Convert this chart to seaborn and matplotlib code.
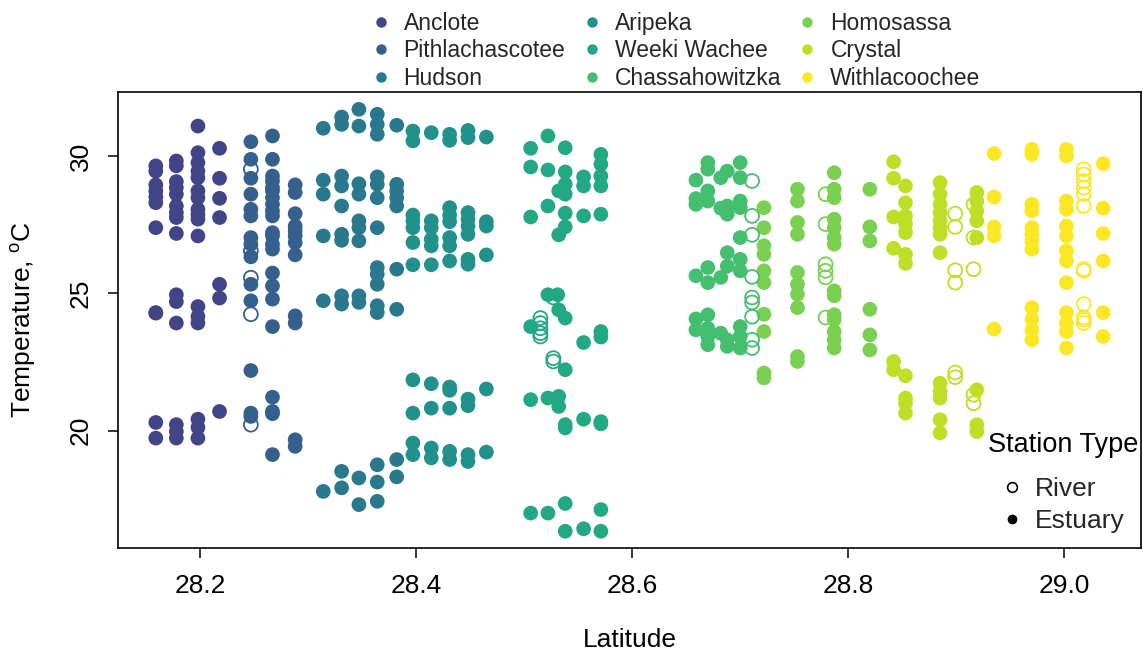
import matplotlib
matplotlib.use("Agg")
import matplotlib.pyplot as plt
from matplotlib.lines import Line2D
import pandas as pd
import seaborn as sns

SITES = ["Anclote", "Pithlachascotee", "Hudson", "Aripeka", "Weeki Wachee",
         "Chassahowitzka", "Homosassa", "Crystal", "Withlacoochee"]
COLORS = ["#414487", "#355F8D", "#2A788E", "#21918C", "#22A884",
          "#44BF70", "#7AD151", "#BDDF26", "#FDE725"]

# ---- estuary stations: station latitude and the temperatures recorded there
anclote_lat = [28.159, 28.178, 28.198, 28.218]
anclote_temp = [
    [29.64, 29.45, 28.95, 28.73, 28.51, 28.30, 27.39, 24.30, 24.28, 20.30, 19.73],
    [29.82, 29.64, 29.07, 28.85, 28.61, 28.18, 27.94, 27.76, 27.18, 24.95, 24.70,
     23.92, 20.22, 19.97, 19.73],
    [31.09, 30.12, 29.76, 29.45, 29.21, 28.73, 28.48, 28.06, 27.88, 27.70, 27.09,
     24.52, 24.16, 23.92, 20.42, 20.12, 19.73],
    [30.28, 29.19, 28.46, 27.76, 25.33, 24.83, 20.70],
]

pith_lat = [28.247, 28.267, 28.288]
pith_temp = [
    [30.52, 29.88, 29.19, 28.61, 28.06, 27.82, 27.03, 26.79, 26.33, 25.33, 24.73,
     22.19, 20.64, 20.52],
    [30.73, 29.88, 29.27, 29.09, 28.85, 28.73, 28.48, 28.24, 28.00, 27.82, 27.21,
     27.09, 26.79, 26.61, 25.74, 25.27, 24.79, 23.79, 21.22, 20.70, 20.62, 19.13],
    [28.95, 28.67, 27.90, 27.45, 27.27, 27.09, 26.85, 26.40, 24.18, 23.92, 19.67,
     19.43],
]

hudson_lat = [28.314, 28.331, 28.347, 28.364, 28.382]
hudson_temp = [
    [31.01, 29.12, 28.61, 27.09, 24.73, 17.79],
    [31.42, 31.15, 29.27, 28.91, 28.18, 27.15, 26.93, 24.91, 24.61, 18.52, 17.92],
    [31.70, 31.09, 28.99, 28.61, 27.64, 27.39, 26.91, 24.91, 24.67, 18.28, 17.31],
    [31.52, 31.15, 30.79, 29.24, 28.97, 28.48, 27.39, 25.94, 25.70, 25.33, 24.55,
     24.30, 18.76, 18.13, 17.43],
    [31.12, 28.97, 28.73, 28.48, 28.18, 25.88, 24.42, 18.95, 18.32],
]

aripeka_lat = [28.397, 28.414, 28.431, 28.448, 28.465]
aripeka_temp = [
    [30.91, 30.55, 27.85, 27.64, 27.39, 26.85, 26.04, 21.85, 20.64, 19.55, 19.13],
    [30.85, 27.64, 27.39, 26.97, 26.73, 26.04, 21.71, 20.82, 19.37, 19.01],
    [30.79, 30.57, 28.12, 27.85, 27.61, 27.03, 26.73, 26.18, 21.59, 21.47, 20.82,
     19.25, 18.95],
    [30.93, 30.67, 27.94, 27.70, 27.45, 27.15, 26.24, 26.06, 21.15, 20.91, 19.13,
     18.88],
    [30.69, 27.61, 27.45, 26.40, 21.52, 19.22],
]

weeki_lat = [28.506, 28.522, 28.531, 28.532, 28.538, 28.555, 28.571]
weeki_temp = [
    [30.28, 29.60, 27.78, 23.79, 21.13, 17.00],
    [30.73, 29.49, 28.18, 24.95, 21.19, 17.00],
    [24.95],
    [28.73, 27.13, 24.40, 21.25, 20.88],
    [30.30, 29.42, 28.97, 28.61, 27.92, 27.42, 24.10, 22.22, 20.22, 20.10, 17.35,
     16.34],
    [29.24, 28.91, 27.82, 23.21, 20.42, 16.43],
    [30.06, 29.70, 29.27, 28.91, 27.88, 23.61, 23.41, 20.33, 20.25, 17.13, 16.34],
]

chass_lat = [28.659, 28.670, 28.682, 28.688, 28.700]
chass_temp = [
    [29.12, 28.45, 28.24, 25.64, 24.07, 23.67],
    [29.76, 29.52, 28.73, 28.36, 25.94, 25.39, 24.22, 23.73, 23.43, 23.13],
    [29.21, 28.10, 25.58, 23.55],
    [29.45, 28.18, 27.88, 26.48, 25.99, 23.31, 23.07],
    [29.76, 29.21, 28.36, 28.12, 27.03, 26.24, 25.82, 23.79, 23.43, 23.01],
]

homo_lat = [28.722, 28.753, 28.787, 28.820]
homo_temp = [
    [28.12, 27.39, 26.73, 26.42, 25.82, 25.39, 24.24, 23.61, 22.10, 21.92],
    [28.79, 28.36, 27.58, 27.15, 25.76, 25.33, 24.97, 24.48, 22.70, 22.52],
    [29.39, 28.79, 28.48, 27.70, 27.39, 27.03, 26.79, 25.09, 24.91, 24.22, 24.04,
     23.61, 23.31, 23.01],
    [28.79, 27.42, 26.91, 24.42, 23.49, 22.94],
]

crystal_lat = [28.842, 28.853, 28.885, 28.919]
crystal_temp = [
    [29.79, 29.19, 27.78, 26.64, 22.52, 22.22],
    [28.91, 28.30, 27.82, 27.52, 27.21, 26.42, 26.09, 22.00, 21.19, 21.00, 20.64],
    [29.03, 28.61, 28.24, 27.94, 27.64, 27.39, 27.15, 26.48, 21.73, 21.43, 21.19,
     20.40, 19.92],
    [28.67, 28.36, 28.00, 27.64, 27.03, 21.49, 20.22, 19.97],
]

withla_lat = [28.935, 28.970, 29.002, 29.036]
withla_temp = [
    [30.09, 28.51, 27.42, 27.09, 23.70],
    [30.24, 30.06, 28.24, 28.00, 27.39, 27.15, 26.91, 26.61, 24.48, 24.06, 23.67,
     23.31],
    [30.24, 30.00, 28.36, 28.06, 27.45, 27.09, 26.55, 26.18, 25.39, 24.30, 23.92,
     23.61, 23.01],
    [29.72, 28.10, 27.18, 26.18, 24.30, 23.43],
]

# ---- river stations
pith_riv_lat = [28.247]
pith_riv_temp = [[29.52, 26.55, 25.57, 24.24, 20.22]]

weeki_riv_lat = [28.515, 28.527]
weeki_riv_temp = [[24.10, 23.92, 23.73, 23.55, 23.43],
                  [24.85, 22.64, 22.52]]

chass_riv_lat = [28.711]
chass_riv_temp = [[29.09, 27.82, 27.13, 25.60, 24.85, 24.67, 24.15, 23.31, 23.01]]

homo_riv_lat = [28.779]
homo_riv_temp = [[28.61, 27.52, 26.06, 25.82, 25.58, 24.12]]

crystal_riv_lat = [28.899, 28.916]
crystal_riv_temp = [[27.90, 27.42, 25.84, 25.39, 22.12, 21.95],
                    [28.24, 27.03, 25.88, 21.31, 21.00]]

withla_riv_lat = [29.018]
withla_riv_temp = [[29.52, 29.33, 29.09, 28.85, 28.61, 28.18, 25.88, 25.82, 24.61,
                    24.12, 24.04, 23.92]]


def long_rows(site, lats, temps, kind):
    return [(site, la, t, kind) for la, ts in zip(lats, temps) for t in ts]


rows = []
rows += long_rows("Anclote", anclote_lat, anclote_temp, "Estuary")
rows += long_rows("Pithlachascotee", pith_lat, pith_temp, "Estuary")
rows += long_rows("Hudson", hudson_lat, hudson_temp, "Estuary")
rows += long_rows("Aripeka", aripeka_lat, aripeka_temp, "Estuary")
rows += long_rows("Weeki Wachee", weeki_lat, weeki_temp, "Estuary")
rows += long_rows("Chassahowitzka", chass_lat, chass_temp, "Estuary")
rows += long_rows("Homosassa", homo_lat, homo_temp, "Estuary")
rows += long_rows("Crystal", crystal_lat, crystal_temp, "Estuary")
rows += long_rows("Withlacoochee", withla_lat, withla_temp, "Estuary")
rows += long_rows("Pithlachascotee", pith_riv_lat, pith_riv_temp, "River")
rows += long_rows("Weeki Wachee", weeki_riv_lat, weeki_riv_temp, "River")
rows += long_rows("Chassahowitzka", chass_riv_lat, chass_riv_temp, "River")
rows += long_rows("Homosassa", homo_riv_lat, homo_riv_temp, "River")
rows += long_rows("Crystal", crystal_riv_lat, crystal_riv_temp, "River")
rows += long_rows("Withlacoochee", withla_riv_lat, withla_riv_temp, "River")
df = pd.DataFrame(rows, columns=["site", "lat", "temp", "type"])

sns.set_theme(style="white")
plt.rcParams["font.family"] = ["Liberation Sans", "DejaVu Sans"]
plt.rcParams["mathtext.fontset"] = "custom"
plt.rcParams["mathtext.rm"] = "Liberation Sans"

W, H = 1143, 656
fig = plt.figure(figsize=(W / 100, H / 100), dpi=100)
ax = fig.add_axes([118 / W, 1 - 548 / H, (1141 - 118) / W, (548 - 92) / H])

est = df[df["type"] == "Estuary"]
riv = df[df["type"] == "River"]

sns.scatterplot(data=est, x="lat", y="temp", hue="site", hue_order=SITES,
                palette=COLORS, s=112, linewidth=0, legend=False, ax=ax, zorder=3)
sns.scatterplot(data=riv, x="lat", y="temp", hue="site", hue_order=SITES,
                palette=COLORS, s=100, legend=False, ax=ax, zorder=3)
# river stations are drawn as open rings in the site colour
ring = ax.collections[-1]
ring.set_edgecolors(ring.get_facecolors())
ring.set_facecolors("none")
ring.set_linewidths(1.3)

ax.set_xlim(28.124, 29.071)
ax.set_ylim(15.73, 32.33)
ax.set_xticks([28.2, 28.4, 28.6, 28.8, 29.0])
ax.set_xticklabels(["28.2", "28.4", "28.6", "28.8", "29.0"])
ax.set_yticks([20, 25, 30])
ax.set_yticklabels(["20", "25", "30"], rotation=90, va="center")
ax.tick_params(axis="both", direction="out", length=7, width=1.1,
               color="black", labelsize=19, labelcolor="black", bottom=True, left=True)
ax.tick_params(axis="x", pad=12)
ax.tick_params(axis="y", pad=11)
for sp in ax.spines.values():
    sp.set_color("black")
    sp.set_linewidth(1.2)

ax.set_xlabel("Latitude", fontsize=19, color="black", labelpad=21)
ax.set_ylabel("Temperature, $^{\\mathrm{o}}$C", fontsize=19, color="black", labelpad=22)

# site legend above the panel
site_handles = [Line2D([], [], linestyle="none", marker="o", markersize=7.5,
                       markerfacecolor=c, markeredgewidth=0) for c in COLORS]
fig.legend(site_handles, SITES, loc="upper left", bbox_to_anchor=(0.313, 1.003),
           ncol=3, frameon=False, fontsize=16.5, handlelength=0.8,
           handletextpad=0.6, columnspacing=0.75, labelspacing=0.2, borderpad=0.1)

# station type legend inside the panel
fig.text(1063 / W, 1 - 445 / H, "Station Type", ha="center", va="center",
         fontsize=19.5, color="black")
type_handles = [
    Line2D([], [], linestyle="none", marker="o", markersize=7,
           markerfacecolor="none", markeredgecolor="black", markeredgewidth=1.2),
    Line2D([], [], linestyle="none", marker="o", markersize=7,
           markerfacecolor="black", markeredgewidth=0),
]
fig.legend(type_handles, ["River", "Estuary"], loc="upper left",
           bbox_to_anchor=(986 / W, 1 - 464 / H), frameon=False,
           fontsize=19, handlelength=1.0, handletextpad=0.37,
           labelspacing=0.3, borderpad=0.0)

fig.savefig("out.png", dpi=100, facecolor="white")
